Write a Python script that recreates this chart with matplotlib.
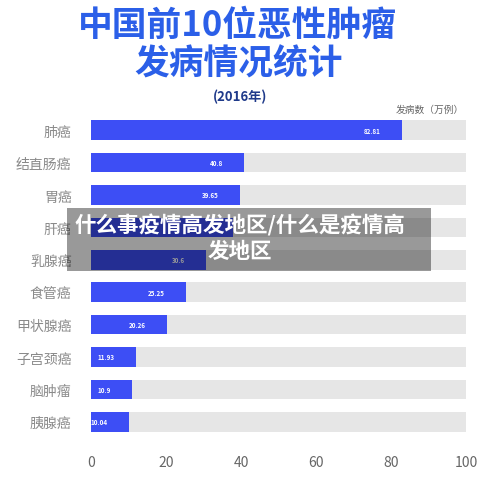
import matplotlib
matplotlib.use("Agg")
import matplotlib.pyplot as plt
from matplotlib.patches import Rectangle

plt.rcParams['font.family'] = ['Noto Sans CJK SC', 'DejaVu Sans']

categories = ["肺癌", "结直肠癌", "胃癌", "肝癌", "乳腺癌", "食管癌", "甲状腺癌", "子宫颈癌", "脑肿瘤", "胰腺癌"]
values = [82.81, 40.8, 39.65, 38.0, 30.6, 25.25, 20.26, 11.93, 10.9, 10.04]
value_labels = ["82.81", "40.8", "39.65", "", "30.6", "25.25", "20.26", "11.93", "10.9", "10.04"]
track_max = 100
xticks = [0, 20, 40, 60, 80, 100]

W, H = 500, 481
fig = plt.figure(figsize=(W / 100, H / 100), dpi=100)
fig.patch.set_facecolor("white")

ax = fig.add_axes([91 / W, 1 - 439 / H, 375 / W, 324 / H])
ypos = list(range(len(categories)))
ax.barh(ypos, [track_max] * len(categories), height=0.6, color="#e6e6e6", zorder=1)
ax.barh(ypos, values, height=0.6, color="#3d4ef5", zorder=2)
for y, v, lab in zip(ypos, values, value_labels):
    if lab:
        ax.annotate(lab, xy=(v, y), xytext=(-15, 0), textcoords="offset points",
                    ha="right", va="center", color="white", fontsize=4.5,
                    fontweight="bold", zorder=3)
ax.set_xlim(0, 100)
ax.set_ylim(9.5, -0.5)
ax.set_yticks(ypos)
ax.set_yticklabels(categories, fontsize=10, color="#8a8a8a")
ax.set_xticks(xticks)
ax.set_xticklabels([str(t) for t in xticks], fontsize=10, color="#666666")
ax.tick_params(axis="y", length=0, pad=14)
ax.tick_params(axis="x", length=0, pad=12)
for s in ax.spines.values():
    s.set_visible(False)

# Titles
fig.text(237 / W, 1 - 25 / H, "中国前10位恶性肿瘤", ha="center", va="center",
         fontsize=25, fontweight="heavy", color="#2b5fe8")
fig.text(239 / W, 1 - 64 / H, "发病情况统计", ha="center", va="center",
         fontsize=25, fontweight="heavy", color="#2b5fe8")
fig.text(240 / W, 1 - 97 / H, "(2016年)", ha="center", va="center",
         fontsize=9.5, fontweight="bold", style="italic", color="#1f3a8a")
fig.text(430 / W, 1 - 110 / H, "发病数（万例）", ha="center", va="center",
         fontsize=7, color="#666666")

# Overlay banner
fig.patches.append(Rectangle((67 / W, 1 - 272 / H), 364 / W, 63 / H,
                             transform=fig.transFigure, facecolor="black",
                             alpha=0.4, edgecolor="none", zorder=5))
fig.text(240 / W, 1 - 238 / H, "什么事疫情高发地区/什么是疫情高\n发地区", ha="center",
         va="center", fontsize=15.5, fontweight="bold", color="white",
         linespacing=1.25, zorder=6)

fig.savefig("out.png", dpi=100)
